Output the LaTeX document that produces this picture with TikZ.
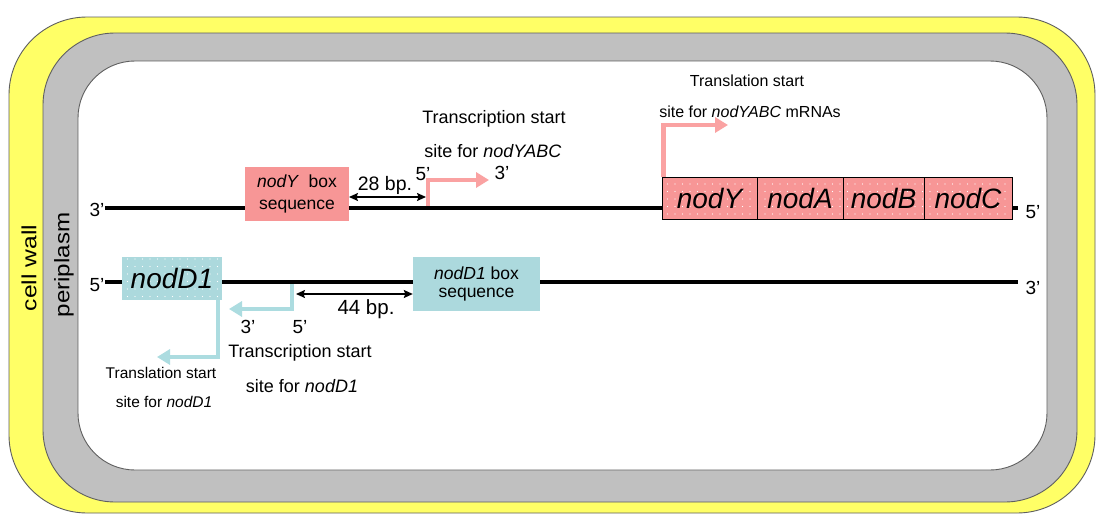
\documentclass[tikz,border=0pt]{standalone}
\usepackage{fontspec}
\setmainfont{Liberation Sans}
\usetikzlibrary{arrows.meta,patterns.meta}
\definecolor{wallyellow}{RGB}{255,255,102}
\definecolor{perigray}{RGB}{192,192,192}
\definecolor{edgegray}{RGB}{95,95,95}
\definecolor{salmonbox}{RGB}{247,150,150}
\definecolor{pinkarrow}{RGB}{250,162,162}
\definecolor{tealbox}{RGB}{172,217,221}
\definecolor{tealarrow}{RGB}{172,220,224}
\newcommand{\fsz}[1]{\fontsize{#1}{#1}\selectfont}
\begin{document}
\begin{tikzpicture}[x=1pt,y=-1pt,
  layer/.style={draw=edgegray, line width=0.9pt},
  strand/.style={line width=4pt, black},
  gene/.style={draw=black, line width=0.9pt, inner sep=0pt, minimum height=42pt,
    preaction={fill=salmonbox}, pattern={Dots[distance=7.5pt,radius=0.6pt]}, pattern color=white,
    font=\fsz{28}\itshape},
  seqbox/.style={inner sep=0pt, minimum height=54pt, align=center},
  dim/.style={line width=1.4pt, {Stealth[length=9pt,width=8pt,inset=1.5pt]}-{Stealth[length=9pt,width=8pt,inset=1.5pt]}},
  bentpink/.style={line width=4.5pt, pinkarrow, -{Triangle[length=13pt,width=15pt]}},
  bentteal/.style={line width=4.5pt, tealarrow, -{Triangle[length=13pt,width=15pt]}},
  lbl/.style={inner sep=0pt, font=\fsz{19}},
  small/.style={inner sep=0pt, font=\fsz{16}}
]
\useasboundingbox (0,0) rectangle (1096,514);
\fill[white] (0,0) rectangle (1096,514);
% cell layers
\draw[layer, fill=wallyellow, rounded corners=78pt] (9,17) rectangle (1095,513);
\draw[layer, fill=perigray, rounded corners=72pt] (43,33) rectangle (1077,502);
\draw[layer, fill=white, rounded corners=57pt] (78,61) rectangle (1047,470);
\node[rotate=90, inner sep=0pt] (cellwall) at (29,268) {\fsz{20.5}\scalebox{1.2}[1]{cell wall}};
\node[rotate=90, inner sep=0pt] (peri) at (64,265) {\fsz{21}\scalebox{1.15}[1]{periplasm}};

% ---------- top strand ----------
\coordinate (tL) at (105,208);
\coordinate (tR) at (1018,208);
\draw[strand] (tL) -- (tR);
\node[lbl] (t3) at (97,210) {3’};
\node[lbl] (t5) at (1033,212) {5’};

\node[seqbox, fill=salmonbox, minimum width=104pt, font=\fsz{17.5}] (nodYbox) at (297,194)
  {\textit{nodY}\ \ box\\[4pt]sequence};

\coordinate (b28l) at (349,197);
\coordinate (b28r) at (426,197);
\draw[dim] (b28l) -- (b28r);
\node[inner sep=0pt, font=\fsz{19.5}] (bp28) at (385,185) {28 bp.};
\node[lbl] (ts5) at (423,174) {5’};

\coordinate (tsY0) at (428,206);
\coordinate (tsY1) at (428,180);
\coordinate (tsY2) at (489,180);
\draw[bentpink] (tsY0) -- (tsY1) -- (tsY2);
\node[lbl] (ts3) at (502,173) {3’};
\node[lbl, font=\fsz{18}] (tsYa) at (494,119) {Transcription start};
\node[lbl, font=\fsz{18}] (tsYb) at (493,151) {site for \textit{nodYABC}};

\node[gene, minimum width=95pt] (gY) at (709.5,198) {nodY};
\node[gene, minimum width=86pt] (gA) at (800,198) {nodA};
\node[gene, minimum width=81pt] (gB) at (883.5,198) {nodB};
\node[gene, minimum width=88pt] (gC) at (968,198) {nodC};

\coordinate (tlY1) at (664,125);
\coordinate (tlY2) at (728,125);
\draw[bentpink] (gY.north west) ++(2,0) coordinate (tlY0) -- (tlY0 |- tlY1) -- (tlY2);
\node[small] (tlYa) at (747,81) {Translation start};
\node[small] (tlYb) at (750,112) {site for \textit{nodYABC} mRNAs};

% ---------- bottom strand ----------
\coordinate (bL) at (105,282);
\coordinate (bR) at (1018,282);
\draw[strand] (bL) -- (bR);
\node[lbl] (b5) at (97,285) {5’};
\node[lbl] (b3) at (1033,288) {3’};

\node[gene, preaction={fill=tealbox}, draw=none, minimum width=100pt, minimum height=43pt] (gD) at (172,278.5) {nodD1};

\node[seqbox, fill=tealbox, minimum width=127pt, font=\fsz{17.5}] (nodDbox) at (476.5,284)
  {\textit{nodD1} box\\[1pt]sequence};

\coordinate (b44l) at (296,294);
\draw[dim] (b44l) -- (b44l -| nodDbox.west);
\node[inner sep=0pt, font=\fsz{20.5}] (bp44) at (366,309) {44 bp.};

\coordinate (tsD0) at (292,284);
\coordinate (tsD1) at (292,309);
\coordinate (tsD2) at (229,309);
\draw[bentteal] (tsD0) -- (tsD1) -- (tsD2);
\node[lbl] (tsD3) at (248,327) {3’};
\node[lbl] (tsD5) at (300,327) {5’};
\node[lbl, font=\fsz{18}] (tsDa) at (300,353) {Transcription start};
\node[lbl, font=\fsz{18}] (tsDb) at (302,386) {site for \textit{nodD1}};

\coordinate (tlD1) at (218,357);
\coordinate (tlD2) at (157,357);
\draw[bentteal] (gD.south -| tlD1) -- (tlD1) -- (tlD2);
\node[small, font=\fsz{15.5}] (tlDa) at (161,373) {Translation start};
\node[small, font=\fsz{15.5}] (tlDb) at (164,402) {site for \textit{nodD1}};
\end{tikzpicture}
\end{document}
